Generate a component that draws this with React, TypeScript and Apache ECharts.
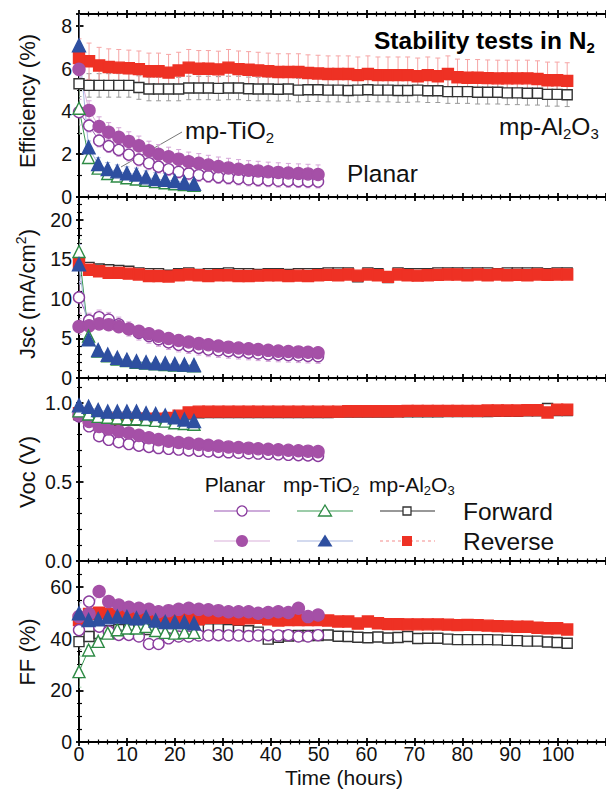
import React, { useEffect, useRef } from 'react';
import * as echarts from 'echarts';

const FONT = "'Liberation Sans', Arial, Helvetica, sans-serif";

// ---------- time axes (hours) ----------
const tTiO2 = [0, 2, 4, 6, 8, 10, 12, 14, 16, 18, 20, 22, 24];
const tPlanar = [0, 2.1, 4.2, 6.2, 8.3, 10.4, 12.5, 14.6, 16.6, 18.7, 20.8, 22.9, 25, 27, 29.1, 31.2, 33.3, 35.4, 37.4, 39.5, 41.6, 43.7, 45.8, 47.8, 49.9];
const tAl = [0, 2.1, 4.2, 6.2, 8.3, 10.4, 12.5, 14.6, 16.6, 18.7, 20.8, 22.9, 25, 27, 29.1, 31.2, 33.3, 35.4, 37.4, 39.5, 41.6, 43.7, 45.8, 47.8, 49.9,
  52, 54.1, 56.2, 58.2, 60.3, 62.4, 64.5, 66.6, 68.6, 70.7, 72.8, 74.9, 77, 79, 81.1, 83.2, 85.3, 87.4, 89.4, 91.5, 93.6, 95.7, 97.8, 99.8, 101.9];

// ---------- Efficiency (%) ----------
const effPlanarFwd = [3.97, 3.34, 2.64, 2.38, 2.2, 1.98, 1.75, 1.58, 1.42, 1.3, 1.18, 1.1, 1.03, 0.98, 0.93, 0.9, 0.86, 0.82, 0.8, 0.78, 0.76, 0.75, 0.74, 0.73, 0.72];
const effPlanarRev = [5.97, 4.05, 3.3, 3.03, 2.79, 2.6, 2.4, 2.16, 2.0, 1.88, 1.77, 1.65, 1.58, 1.5, 1.42, 1.36, 1.3, 1.25, 1.22, 1.18, 1.15, 1.12, 1.1, 1.08, 1.05];
const effTiO2Fwd = [4.15, 1.85, 1.35, 1.1, 0.98, 0.9, 0.84, 0.78, 0.72, 0.67, 0.62, 0.58, 0.55];
const effTiO2Rev = [7.1, 2.32, 1.54, 1.31, 1.2, 1.11, 1.05, 0.92, 0.84, 0.8, 0.75, 0.67, 0.62];
const effAlFwd = [5.30, 5.22, 5.22, 5.22, 5.22, 5.22, 5.12, 5.05, 5.05, 5.05,
  5.05, 5.10, 5.10, 5.10, 5.08, 5.10, 5.10, 5.06, 5.05, 5.05,
  5.04, 5.05, 5.00, 5.02, 5.02, 5.00, 5.00, 4.98, 5.00, 5.02,
  5.00, 5.00, 4.98, 4.98, 5.00, 4.97, 4.97, 4.93, 4.93, 4.93,
  4.90, 4.90, 4.90, 4.87, 4.87, 4.85, 4.85, 4.80, 4.80, 4.78];
const effAlRev = [6.50, 6.35, 6.15, 6.08, 6.05, 6.02, 5.98, 5.88, 5.88, 5.82,
  5.92, 6.05, 6.00, 6.00, 5.97, 6.05, 5.98, 5.95, 5.92, 5.88,
  5.85, 5.85, 5.85, 5.80, 5.78, 5.75, 5.75, 5.75, 5.70, 5.75,
  5.70, 5.70, 5.70, 5.70, 5.65, 5.70, 5.65, 5.75, 5.60, 5.58,
  5.58, 5.56, 5.55, 5.55, 5.55, 5.55, 5.52, 5.46, 5.46, 5.43];

// ---------- Jsc (mA/cm2) ----------
const jscPlanarFwd = [10.2, 7.3, 7.7, 7.4, 6.8, 6.2, 5.7, 5.3, 4.9, 4.5, 4.2, 4.0, 3.8, 3.6, 3.5, 3.4, 3.3, 3.2, 3.1, 3.0, 2.95, 2.9, 2.85, 2.8, 2.75];
const jscPlanarRev = [6.5, 6.6, 6.85, 6.75, 6.5, 6.2, 5.9, 5.6, 5.3, 5.0, 4.75, 4.55, 4.35, 4.2, 4.05, 3.9, 3.8, 3.7, 3.6, 3.5, 3.4, 3.35, 3.3, 3.25, 3.2];
const jscTiO2Fwd = [16.0, 5.3, 3.4, 2.8, 2.4, 2.2, 2.0, 1.9, 1.8, 1.7, 1.65, 1.6, 1.55];
const jscTiO2Rev = [14.4, 4.9, 3.55, 2.95, 2.55, 2.3, 2.1, 2.0, 1.9, 1.85, 1.75, 1.7, 1.65];
const jscAlFwd = [14.3, 14.0, 13.8, 13.7, 13.6, 13.5, 13.3, 13.2, 13.2, 13.0,
  13.2, 13.3, 13.1, 13.2, 13.2, 13.3, 13.2, 13.2, 13.1, 13.2,
  13.2, 13.1, 13.2, 13.2, 13.2, 13.3, 13.3, 13.3, 12.8, 13.3,
  13.2, 12.7, 13.3, 13.2, 13.2, 13.2, 13.3, 13.3, 13.3, 13.3,
  13.3, 13.3, 13.2, 13.3, 13.3, 13.3, 13.3, 13.2, 13.3, 13.3];
const jscAlRev = [14.5, 13.7, 13.5, 13.3, 13.3, 13.2, 13.1, 12.9, 12.9, 12.85,
  13.0, 13.1, 13.0, 12.9, 13.0, 13.0, 12.9, 12.9, 12.95, 13.0,
  13.0, 12.9, 12.95, 12.9, 13.0, 13.05, 13.0, 13.1, 12.95, 13.1,
  13.0, 12.8, 13.1, 13.0, 12.95, 13.0, 13.05, 13.1, 13.1, 13.0,
  13.1, 13.0, 13.1, 13.0, 13.05, 13.0, 13.1, 13.05, 13.1, 13.1];

// ---------- Voc (V) ----------
const vocPlanarFwd = [0.915, 0.852, 0.79, 0.767, 0.752, 0.74, 0.73, 0.722, 0.715, 0.71, 0.705, 0.70, 0.697, 0.693, 0.69, 0.688, 0.685, 0.682, 0.68, 0.678, 0.675, 0.672, 0.67, 0.668, 0.665];
const vocPlanarRev = [0.925, 0.883, 0.852, 0.835, 0.82, 0.81, 0.795, 0.78, 0.768, 0.758, 0.75, 0.745, 0.738, 0.732, 0.727, 0.722, 0.718, 0.714, 0.71, 0.707, 0.704, 0.701, 0.698, 0.695, 0.692];
const vocTiO2Fwd = [0.95, 0.93, 0.915, 0.91, 0.905, 0.9, 0.9, 0.895, 0.89, 0.885, 0.875, 0.87, 0.865];
const vocTiO2Rev = [0.985, 0.975, 0.955, 0.945, 0.945, 0.945, 0.945, 0.935, 0.93, 0.92, 0.91, 0.895, 0.885];
const vocAlFwd = [0.925, 0.895, 0.890, 0.890, 0.890, 0.890, 0.890, 0.890, 0.890, 0.895,
  0.910, 0.930, 0.938, 0.940, 0.940, 0.940, 0.940, 0.940, 0.940, 0.940,
  0.940, 0.940, 0.940, 0.940, 0.940, 0.940, 0.942, 0.942, 0.942, 0.942,
  0.942, 0.942, 0.944, 0.944, 0.944, 0.944, 0.944, 0.946, 0.946, 0.946,
  0.946, 0.946, 0.948, 0.948, 0.948, 0.950, 0.950, 0.965, 0.952, 0.952];
const vocAlRev = [0.935, 0.905, 0.900, 0.900, 0.900, 0.900, 0.900, 0.900, 0.900, 0.905,
  0.920, 0.940, 0.945, 0.945, 0.945, 0.945, 0.945, 0.945, 0.945, 0.945,
  0.945, 0.945, 0.945, 0.945, 0.945, 0.945, 0.945, 0.948, 0.948, 0.948,
  0.948, 0.948, 0.948, 0.950, 0.950, 0.950, 0.950, 0.950, 0.950, 0.950,
  0.950, 0.952, 0.952, 0.952, 0.952, 0.955, 0.955, 0.940, 0.958, 0.958];

// ---------- FF (%) ----------
const ffPlanarFwd = [43.3, 54.3, 44.6, 42.7, 41.4, 41.4, 40.8, 37.9, 37.9, 40.1, 40.8, 40.8, 41.2, 41.2, 41.3, 41.2, 41.2, 41.0, 41.2, 41.3, 41.2, 41.3, 40.8, 40.8, 41.3];
const ffPlanarRev = [48.5, 49.5, 58.2, 54.3, 53.0, 52.1, 51.7, 51.3, 50.4, 50.8, 51.3, 51.7, 51.3, 51.1, 50.8, 50.4, 50.4, 50.4, 49.8, 50.1, 50.4, 50.1, 51.7, 48.5, 49.1];
const ffTiO2Fwd = [27.2, 35.6, 38.9, 42.1, 43.4, 44.1, 44.1, 44.7, 43.1, 42.4, 42.1, 42.4, 42.4];
const ffTiO2Rev = [49.8, 47.2, 47.5, 48.2, 48.5, 48.3, 47.8, 48.2, 47.0, 46.4, 46.4, 46.4, 45.9];
const ffAlFwd = [38.8, 40.8, 42.0, 43.0, 43.5, 43.5, 43.5, 43.5, 43.0, 43.0,
  43.0, 43.2, 43.5, 43.8, 43.8, 43.5, 43.2, 43.0, 42.5, 39.8,
  40.5, 41.0, 41.2, 41.2, 41.2, 41.4, 40.9, 40.8, 40.5, 40.3,
  40.6, 40.2, 40.4, 40.8, 40.0, 40.1, 40.1, 39.8, 39.6, 39.6,
  39.6, 39.6, 39.5, 39.3, 39.2, 39.0, 39.0, 38.7, 38.5, 38.2];
const ffAlRev = [47.2, 49.5, 50.0, 49.5, 49.5, 49.0, 48.5, 48.5, 48.0, 48.0,
  48.0, 47.8, 47.5, 48.0, 48.0, 48.0, 47.5, 47.8, 48.0, 47.5,
  47.0, 47.2, 47.2, 47.2, 47.2, 47.0, 46.6, 46.6, 45.8, 46.6,
  45.9, 45.6, 45.6, 45.5, 45.5, 45.5, 45.5, 45.4, 45.2, 45.3,
  45.2, 45.0, 44.8, 44.7, 44.6, 44.6, 44.2, 44.0, 44.0, 43.5];

// error-bar half widths per series: [planarFwd, planarRev, tio2Fwd, tio2Rev, alFwd, alRev]
const effErr = [0.3, 0.45, 0.25, 0.3, 0.55, 0.85];
const effErr0 = [0.6, 0.6, 1.2, 1.5, 0.6, 0.9];
const jscErr = [0.9, 0.7, 0.4, 0.4, 0.45, 0.55];
const jscErr0 = [2.0, 1.0, 1.5, 2.5, 0.5, 0.6];
const vocErr = [0.015, 0.015, 0.01, 0.01, 0.01, 0.01];
const vocErr0 = [0.02, 0.02, 0.02, 0.02, 0.01, 0.01];
const ffErr = [1.5, 1.5, 1.5, 1.2, 1.0, 1.2];
const ffErr0 = [3, 3, 6, 4, 3, 2];

// y-axis scales per panel
const yMaxes = [8.56, 22.9, 1.158, 70];
const yIntervals = [2, 5, 0.5, 20];
const yMinorSplits = [2, 5, 5, 4];

const panelData = [
  [effPlanarFwd, effPlanarRev, effTiO2Fwd, effTiO2Rev, effAlFwd, effAlRev],
  [jscPlanarFwd, jscPlanarRev, jscTiO2Fwd, jscTiO2Rev, jscAlFwd, jscAlRev],
  [vocPlanarFwd, vocPlanarRev, vocTiO2Fwd, vocTiO2Rev, vocAlFwd, vocAlRev],
  [ffPlanarFwd, ffPlanarRev, ffTiO2Fwd, ffTiO2Rev, ffAlFwd, ffAlRev],
];
const panelErr = [effErr, jscErr, vocErr, ffErr];
const panelErr0 = [effErr0, jscErr0, vocErr0, ffErr0];
const seriesTimes = [tPlanar, tPlanar, tTiO2, tTiO2, tAl, tAl];

const seriesStyles = [
  { name: 'Planar Forward', symbol: 'circle', size: 11, fill: '#ffffff', stroke: '#8a3c9e', line: '#9b59b6', lineType: 'solid', err: '#d5a6d8' },
  { name: 'Planar Reverse', symbol: 'circle', size: 12, fill: '#a550a7', stroke: '#a550a7', line: '#d9b0da', lineType: 'solid', err: '#d5a6d8' },
  { name: 'mp-TiO2 Forward', symbol: 'triangle', size: 12, fill: '#ffffff', stroke: '#2e8b45', line: '#3b9a55', lineType: 'solid', err: '#a3d3ad' },
  { name: 'mp-TiO2 Reverse', symbol: 'triangle', size: 13, fill: '#2e4fa0', stroke: '#2e4fa0', line: '#a8b6e0', lineType: 'solid', err: '#a8b6e0' },
  { name: 'mp-Al2O3 Forward', symbol: 'rect', size: 10, fill: '#ffffff', stroke: '#333333', line: '#333333', lineType: 'solid', err: '#9a9a9a' },
  { name: 'mp-Al2O3 Reverse', symbol: 'rect', size: 11, fill: '#ee3124', stroke: '#ee3124', line: '#f38b8b', lineType: 'dashed', err: '#f6a5a5' },
];
const drawOrder = [4, 5, 0, 1, 2, 3];

// layout
const GRID_LEFT = 79;
const X_MAX = 110;
const PX_PER_HOUR = 5.1;
const gridTops = [14, 197, 378, 561];
const gridHeights = [183, 181, 183, 181];

function buildOption() {
  const gridW = X_MAX * PX_PER_HOUR;
  const grid = gridTops.map((top, i) => ({ left: GRID_LEFT, top, width: gridW, height: gridHeights[i] }));

  const tickLine = { color: '#000', width: 1.8 };
  const minorLine = { color: '#000', width: 1.2 };
  const mkX = (gridIndex: number, position: string, inside: boolean, showLabel: boolean) => ({
    type: 'value', gridIndex, position, min: 0, max: X_MAX, interval: 10,
    axisLine: { show: true, onZero: false, lineStyle: { color: '#000', width: 2 } },
    axisTick: { show: true, inside, length: 4, lineStyle: tickLine },
    minorTick: { show: true, splitNumber: 5, length: 2.5, lineStyle: minorLine },
    splitLine: { show: false }, minorSplitLine: { show: false },
    axisLabel: { show: showLabel, showMaxLabel: false, margin: 2, fontSize: 19.5, color: '#111', fontFamily: FONT },
  });
  const mkY = (p: number, inside: boolean, showLabel: boolean) => ({
    type: 'value', gridIndex: p, position: 'left', min: 0, max: yMaxes[p], interval: yIntervals[p],
    axisLine: { show: true, onZero: false, lineStyle: { color: '#000', width: 2 } },
    axisTick: { show: true, inside, length: inside ? 4.5 : 3, lineStyle: tickLine },
    minorTick: { show: true, splitNumber: yMinorSplits[p], length: inside ? 3 : 2, lineStyle: minorLine },
    splitLine: { show: false }, minorSplitLine: { show: false },
    axisLabel: {
      show: showLabel, showMaxLabel: false, margin: 7, fontSize: 19.5, color: '#111', fontFamily: FONT,
      formatter: (v: number) => (p === 2 ? v.toFixed(1) : String(v)),
    },
  });

  const xAxis: any[] = [];
  const yAxis: any[] = [];
  for (let p = 0; p < 4; p++) {
    xAxis.push(mkX(p, 'bottom', true, false)); // 2p
    xAxis.push(mkX(p, 'top', true, false)); // 2p+1
    yAxis.push(mkY(p, true, true)); // 2p
    yAxis.push(mkY(p, false, false)); // 2p+1
  }
  xAxis.push(mkX(0, 'top', false, false)); // 8: outer ticks at very top
  xAxis.push(mkX(3, 'bottom', false, true)); // 9: outer ticks + labels at bottom

  const series: any[] = [];
  // error bars first
  for (let p = 0; p < 4; p++) {
    for (const s of drawOrder) {
      const st = seriesStyles[s];
      const t = seriesTimes[s];
      const ys = panelData[p][s];
      const e = panelErr[p][s];
      const e0 = panelErr0[p][s];
      series.push({
        type: 'custom', name: st.name + ' err', xAxisIndex: 2 * p, yAxisIndex: 2 * p, silent: true, clip: true,
        encode: { x: 0, y: 1 },
        data: t.map((ti, i) => [ti, ys[i], i === 0 ? e0 : e]),
        renderItem: (params: any, api: any) => {
          const x = api.value(0), y = api.value(1), er = api.value(2);
          const a = api.coord([x, y + er]);
          const b = api.coord([x, y - er]);
          const cw = 2.5;
          const ls = { stroke: st.err, lineWidth: 1 };
          return {
            type: 'group', children: [
              { type: 'line', shape: { x1: a[0], y1: a[1], x2: b[0], y2: b[1] }, style: ls },
              { type: 'line', shape: { x1: a[0] - cw, y1: a[1], x2: a[0] + cw, y2: a[1] }, style: ls },
              { type: 'line', shape: { x1: b[0] - cw, y1: b[1], x2: b[0] + cw, y2: b[1] }, style: ls },
            ],
          };
        },
      });
    }
  }
  for (let p = 0; p < 4; p++) {
    for (const s of drawOrder) {
      const st = seriesStyles[s];
      const t = seriesTimes[s];
      const ys = panelData[p][s];
      series.push({
        type: 'line', name: st.name, xAxisIndex: 2 * p, yAxisIndex: 2 * p, silent: true,
        data: t.map((ti, i) => [ti, ys[i]]),
        symbol: st.symbol, symbolSize: st.size, showSymbol: true,
        itemStyle: { color: st.fill, borderColor: st.stroke, borderWidth: 1.4 },
        lineStyle: { color: st.line, width: 1, type: st.lineType },
        emphasis: { disabled: true },
      });
    }
  }

  const txt = (fill = '#111') => ({ fontFamily: FONT, fill });
  // sub/superscripts via token padding (all tokens middle-aligned)
  const richBase = (size: number, bold = false) => {
    const small = Math.round(size * 0.62);
    const fw = bold ? 'bold' : 'normal';
    const shiftPad = Math.round(size * 0.6);
    return {
      n: { fontSize: size, fontFamily: FONT, fontWeight: fw, verticalAlign: 'middle' },
      s: { fontSize: small, fontFamily: FONT, fontWeight: fw, verticalAlign: 'middle', padding: [shiftPad, 0, 0, 0] },
      u: { fontSize: small, fontFamily: FONT, fontWeight: fw, verticalAlign: 'middle', padding: [0, 0, shiftPad, 0] },
    };
  };

  const yNameY = [101, 294, 472, 652];
  const yNameText = ['{n|Efficiency (%)}', '{n|Jsc (mA/cm}{u|2}{n|)}', '{n|Voc (V)}', '{n|FF (%)}'];

  const graphic: any[] = [];
  yNameText.forEach((tx, i) => {
    graphic.push({
      type: 'text', x: 27, y: yNameY[i], rotation: Math.PI / 2, silent: true,
      style: { ...txt(), text: tx, rich: richBase(22), align: 'center', verticalAlign: 'middle' },
    });
  });
  graphic.push({ type: 'text', x: 344, y: 777, silent: true, style: { ...txt(), text: 'Time (hours)', fontSize: 21, align: 'center', verticalAlign: 'middle' } });
  // annotations
  graphic.push({ type: 'text', x: 374, y: 40, silent: true, style: { ...txt('#000'), text: '{n|Stability tests in N}{s|2}', rich: richBase(24.5, true), align: 'left', verticalAlign: 'middle' } });
  graphic.push({ type: 'text', x: 499, y: 126, silent: true, style: { ...txt(), text: '{n|mp-Al}{s|2}{n|O}{s|3}', rich: richBase(24.5), align: 'left', verticalAlign: 'middle' } });
  graphic.push({ type: 'text', x: 185, y: 130, silent: true, style: { ...txt(), text: '{n|mp-TiO}{s|2}', rich: richBase(24.5), align: 'left', verticalAlign: 'middle' } });
  graphic.push({ type: 'text', x: 347, y: 173, silent: true, style: { ...txt(), text: 'Planar', fontSize: 24.5, align: 'left', verticalAlign: 'middle' } });
  graphic.push({ type: 'line', silent: true, shape: { x1: 182, y1: 132, x2: 121, y2: 167 }, style: { stroke: '#777', lineWidth: 1 } });

  // legend block
  const r1 = 511, r2 = 541;
  graphic.push({ type: 'text', x: 235, y: 484, silent: true, style: { ...txt(), text: 'Planar', fontSize: 21, align: 'center', verticalAlign: 'middle' } });
  graphic.push({ type: 'text', x: 283, y: 484, silent: true, style: { ...txt(), text: '{n|mp-TiO}{s|2}', rich: richBase(21), align: 'left', verticalAlign: 'middle' } });
  graphic.push({ type: 'text', x: 369, y: 484, silent: true, style: { ...txt(), text: '{n|mp-Al}{s|2}{n|O}{s|3}', rich: richBase(21), align: 'left', verticalAlign: 'middle' } });
  graphic.push({ type: 'text', x: 463, y: r1, silent: true, style: { ...txt(), text: 'Forward', fontSize: 24.5, align: 'left', verticalAlign: 'middle' } });
  graphic.push({ type: 'text', x: 463, y: r2, silent: true, style: { ...txt(), text: 'Reverse', fontSize: 24.5, align: 'left', verticalAlign: 'middle' } });
  const legLine = (x1: number, x2: number, y: number, color: string, dash?: number[]) =>
    graphic.push({ type: 'line', silent: true, shape: { x1, y1: y, x2, y2: y }, style: { stroke: color, lineWidth: 1.2, lineDash: dash } });
  legLine(214, 270, r1, '#9b59b6');
  legLine(297, 353, r1, '#3b9a55');
  legLine(380, 435, r1, '#333333');
  legLine(214, 270, r2, '#d9b0da');
  legLine(297, 353, r2, '#a8b6e0');
  legLine(380, 435, r2, '#f38b8b', [3, 3]);
  graphic.push({ type: 'circle', silent: true, shape: { cx: 242, cy: r1, r: 5 }, style: { fill: '#fff', stroke: '#8a3c9e', lineWidth: 1.3 } });
  graphic.push({ type: 'polygon', silent: true, shape: { points: [[325, r1 - 6], [331.5, r1 + 5], [318.5, r1 + 5]] }, style: { fill: '#fff', stroke: '#2e8b45', lineWidth: 1.3 } });
  graphic.push({ type: 'rect', silent: true, shape: { x: 403, y: r1 - 4, width: 8, height: 8 }, style: { fill: '#fff', stroke: '#333', lineWidth: 1.3 } });
  graphic.push({ type: 'circle', silent: true, shape: { cx: 242, cy: r2, r: 6 }, style: { fill: '#a550a7' } });
  graphic.push({ type: 'polygon', silent: true, shape: { points: [[325, r2 - 6.5], [332.5, r2 + 5.5], [317.5, r2 + 5.5]] }, style: { fill: '#2e4fa0' } });
  graphic.push({ type: 'rect', silent: true, shape: { x: 402, y: r2 - 5, width: 10, height: 10 }, style: { fill: '#ee3124' } });

  return {
    animation: false,
    backgroundColor: '#ffffff',
    textStyle: { fontFamily: FONT },
    grid, xAxis, yAxis, series, graphic,
  };
}

export default function App() {
  const ref = useRef<HTMLDivElement>(null);
  useEffect(() => {
    const chart = echarts.init(ref.current as HTMLDivElement, null, { renderer: 'svg' });
    chart.setOption(buildOption() as any);
    return () => chart.dispose();
  }, []);
  return <div ref={ref} style={{ position: 'fixed', left: 0, top: 0, width: 606, height: 789, background: '#fff' }} />;
}
